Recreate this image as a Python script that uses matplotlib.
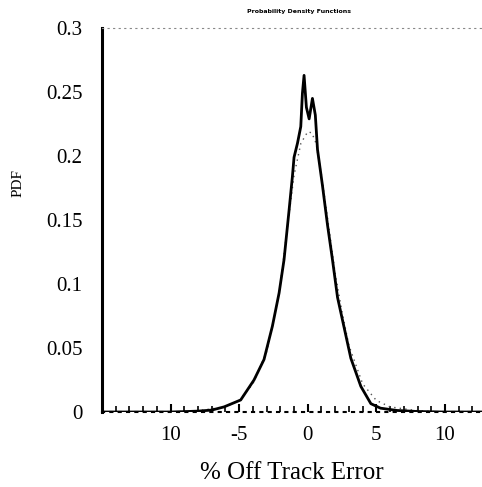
import matplotlib
matplotlib.use('Agg')
import matplotlib.pyplot as plt
from matplotlib.ticker import MultipleLocator

# ----------------- Data -----------------
# measured PDF of the off track error (solid curve)
err_x = [-15, -10, -9, -8, -7, -6.1, -4.89, -3.92, -3.19, -2.58, -2.09, -1.73,
         -1.36, -1.12, -1.0, -0.75, -0.51, -0.39, -0.27, -0.1, 0.1, 0.34, 0.55,
         0.71, 1.07, 1.44, 1.8, 2.17, 2.65, 3.14, 3.87, 4.6, 5.3, 6.5, 8.0,
         9.8, 12.7]
err_pdf = [0.0, 0.0, 0.0003, 0.0007, 0.0015, 0.004, 0.0094, 0.025, 0.041,
           0.067, 0.093, 0.119, 0.158, 0.184, 0.199, 0.210, 0.223, 0.249,
           0.263, 0.238, 0.229, 0.245, 0.232, 0.205, 0.177, 0.146, 0.119,
           0.0895, 0.066, 0.042, 0.020, 0.0065, 0.003, 0.0012, 0.0004, 0.0,
           0.0]

# fitted PDF (dashed curve)
fit_x = [-15, -10, -8, -6, -5, -4, -3, -2.5, -2, -1.5, -1, -0.5, 0, 0.3, 0.6,
         1, 1.5, 2, 2.5, 3, 4, 5, 6, 8, 10, 12.7]
fit_pdf = [0.0, 0.0, 0.001, 0.004, 0.009, 0.022, 0.047, 0.071, 0.100, 0.143,
           0.185, 0.210, 0.219, 0.218, 0.210, 0.185, 0.147, 0.108, 0.078,
           0.052, 0.022, 0.009, 0.004, 0.001, 0.0, 0.0]

y_ticks = [0, 0.05, 0.1, 0.15, 0.2, 0.25, 0.3]
y_labels = ['0', '0.05', '0.1', '0.15', '0.2', '0.25', '0.3']
x_ticks = [-10, -5, 0, 5, 10]
x_labels = ['10', '-5', '0', '5', '10']


# ----------------- Plot -----------------
def plot_pdf():
    fig = plt.figure(figsize=(4.82, 4.87), dpi=100)
    ax = fig.add_axes([0.2116, 0.154, 0.7884, 0.7885])
    serif = 'Liberation Serif'

    ax.plot(fit_x, fit_pdf, linestyle=(0, (1, 3)), color='#555555', linewidth=1)
    ax.plot(err_x, err_pdf, color='black', linewidth=2.0)

    ax.set_xlim(-15, 12.7)
    ax.set_ylim(0, 0.3)

    # spines: thick left, dotted top/bottom, no right
    ax.spines['right'].set_visible(False)
    ax.spines['left'].set_linewidth(2.2)
    ax.spines['bottom'].set_linestyle((0, (1, 3)))
    ax.spines['bottom'].set_linewidth(1.5)
    ax.spines['top'].set_linestyle((0, (1, 4)))
    ax.spines['top'].set_linewidth(0.8)
    ax.spines['top'].set_color('#888888')

    ax.set_yticks(y_ticks)
    ax.set_yticklabels(y_labels, fontsize=15, family=serif)
    ax.tick_params(axis='y', length=0, pad=14)

    ax.set_xticks(x_ticks)
    ax.set_xticklabels(x_labels, fontsize=15, family=serif)
    ax.xaxis.set_minor_locator(MultipleLocator(1))
    ax.tick_params(axis='x', which='major', direction='in', length=6,
                   width=1.5, pad=10)
    ax.tick_params(axis='x', which='minor', direction='in', length=4,
                   width=1.2)

    ax.set_xlabel('% Off Track Error', fontsize=18, family=serif, labelpad=12)
    fig.text(0.037, 0.624, 'PDF', rotation=90, fontsize=11, family=serif,
             ha='center', va='center')
    fig.text(0.62, 0.977, 'Probability Density Functions', fontsize=4.5,
             fontweight='bold', ha='center', va='center')

    fig.savefig('out.png', dpi=100)
    plt.close(fig)


def main():
    plot_pdf()


if __name__ == '__main__':
    main()
